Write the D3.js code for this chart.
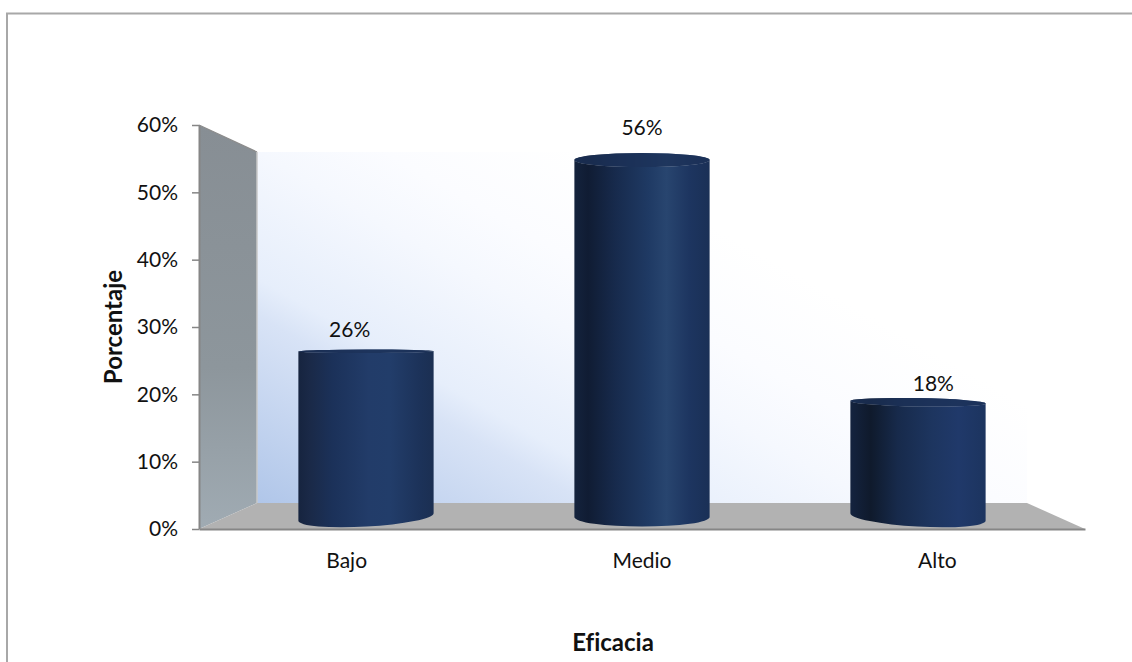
<!DOCTYPE html>
<html>
<head>
<meta charset="utf-8">
<script src="https://cdn.jsdelivr.net/npm/d3@7"></script>
<style>
html,body{margin:0;padding:0;background:#fff;overflow:hidden}
text{font-family:Lato,"Open Sans",sans-serif;fill:#111;font-variant-ligatures:none}
</style>
</head>
<body>
<svg id="chart" width="1132" height="662"></svg>
<script>
// Chart data
const categories = ["Bajo", "Medio", "Alto"];
const values = [26, 56, 18];
const tickValues = [0, 10, 20, 30, 40, 50, 60];
const xTitle = "Eficacia";
const yTitle = "Porcentaje";

const svg = d3.select("#chart");
const defs = svg.append("defs");

// Three depth planes of the 3-D box: front edge, bar centre plane, back wall
const xFront = d3.scaleBand().domain(categories).range([199, 1085]);
const xBar = d3.scaleBand().domain(categories).range([228, 1056]).paddingInner(0.51).paddingOuter(0.255);
const yFront = d3.scaleLinear().domain([0, 60]).range([529, 125]);
const yMid = d3.scaleLinear().domain([0, 60]).range([517, 134.5]);
const yBack = d3.scaleLinear().domain([0, 60]).range([503, 152]);
const backLeft = 257, backRight = 1027, frontLeft = 199, frontRight = 1085;

// Chart-area frame
svg.append("path")
  .attr("d", "M7,662V13.5H1132")
  .attr("fill", "none").attr("stroke", "#a8a8a8").attr("stroke-width", 2);

// Back wall wash
const wall = defs.append("linearGradient").attr("id", "wallFill")
  .attr("gradientUnits", "userSpaceOnUse")
  .attr("x1", backLeft).attr("y1", yBack(0)).attr("x2", backLeft + 230).attr("y2", yBack(0) - 405);
[[0, "#b0c6e9"], [0.35, "#d8e3f6"], [0.42, "#e6eefb"], [0.655, "#f5f8fe"], [0.79, "#fbfcff"], [1, "#ffffff"]].forEach(([o, c]) =>
  wall.append("stop").attr("offset", o).attr("stop-color", c));
svg.append("rect")
  .attr("x", backLeft).attr("y", yBack(60))
  .attr("width", backRight - backLeft).attr("height", yBack(0) - yBack(60))
  .attr("fill", "url(#wallFill)");

// Side wall
const side = defs.append("linearGradient").attr("id", "sideFill").attr("x1", 0).attr("y1", 0).attr("x2", 0).attr("y2", 1);
[[0, "#878e94"], [0.6, "#8d969c"], [1, "#a0abb3"]].forEach(([o, c]) =>
  side.append("stop").attr("offset", o).attr("stop-color", c));
svg.append("path")
  .attr("d", `M${frontLeft},${yFront(60)}L${backLeft},${yBack(60)}V${yBack(0)}L${frontLeft},${yFront(0)}Z`)
  .attr("fill", "url(#sideFill)");
svg.append("path")
  .attr("d", `M${frontLeft},${yFront(60)}L${backLeft},${yBack(60)}`)
  .attr("fill", "none").attr("stroke", "#8c8c8c").attr("stroke-width", 1.2);
svg.append("line")
  .attr("x1", backLeft).attr("x2", backLeft).attr("y1", yBack(60)).attr("y2", yBack(0))
  .attr("stroke", "#c8c8c8").attr("stroke-width", 1.5);

// Floor
svg.append("path")
  .attr("d", `M${frontLeft},${yFront(0)}L${backLeft},${yBack(0)}H${backRight}L${frontRight},${yFront(0)}Z`)
  .attr("fill", "#b2b2b2");

// Value axis, drawn with tick marks only to the left of the box
const yAxis = d3.axisLeft(yFront).tickValues(tickValues).tickFormat(d => d + "%").tickSize(7).tickSizeOuter(0).tickPadding(14);
const yG = svg.append("g").attr("transform", `translate(${frontLeft},0)`).call(yAxis);
yG.select(".domain").attr("stroke", "#868686").attr("stroke-width", 2);
yG.selectAll(".tick line").attr("stroke", "#868686").attr("stroke-width", 1.5);
yG.selectAll("text").attr("font-size", 21).style("font-family", "Lato,sans-serif").attr("fill", "#111");

// Category axis along the front edge of the floor
const xAxis = d3.axisBottom(xFront).tickSize(0).tickPadding(24);
const xG = svg.append("g").attr("transform", `translate(0,${yFront(0)})`).call(xAxis);
xG.select(".domain").attr("stroke", "#868686").attr("stroke-width", 2);
xG.selectAll("text").attr("font-size", 21).style("font-family", "Lato,sans-serif").attr("fill", "#111");

// Cylinder shading: the highlight drifts with the viewing angle of each bar
const shadeStops = [
  [[0, "#16243f"], [0.08, "#1a2947"], [0.25, "#1b3159"], [0.52, "#223c69"], [0.68, "#223d6a"], [0.9, "#1c3259"], [1, "#1b2f52"]],
  [[0, "#14233d"], [0.1, "#101c33"], [0.3, "#172a4c"], [0.55, "#1f3a64"], [0.68, "#28456f"], [0.85, "#1d3560"], [1, "#1a3056"]],
  [[0, "#14233f"], [0.15, "#0f1a2c"], [0.35, "#172a4b"], [0.6, "#1d355f"], [0.8, "#20396a"], [1, "#1c345f"]]
];
shadeStops.forEach((stops, i) => {
  const g = defs.append("linearGradient").attr("id", "barFill" + i);
  stops.forEach(([o, c]) => g.append("stop").attr("offset", o).attr("stop-color", c));
});
const capTint = "#1c3258";

// Elliptical ends get flatter near eye level and lean with distance from centre
const eyeLevel = 345, centreX = 642;
function cap(y, cx) {
  const d = y - eyeLevel;
  const ry = 1.5 + (d > 0 ? 0.047 : 0.03) * Math.abs(d);
  const lean = d / 170 * (cx - centreX) / 275 * 3.7;
  return {ry, lean};
}

const bars = svg.append("g").selectAll("g").data(values).join("g");
bars.each(function (v, i) {
  const g = d3.select(this);
  const x0 = xBar(categories[i]), x1 = x0 + xBar.bandwidth(), cx = (x0 + x1) / 2;
  const half = xBar.bandwidth() / 2;
  const yT = yMid(v), yB = yMid(0);
  const t = cap(yT, cx), b = cap(yB, cx);
  const tl = yT - t.lean, tr = yT + t.lean, bl = yB - b.lean, br = yB + b.lean;
  const rotT = Math.atan2(2 * t.lean, 2 * half) * 180 / Math.PI;
  const rotB = Math.atan2(2 * b.lean, 2 * half) * 180 / Math.PI;
  const capPath = `M${x0},${tl}A${half},${t.ry} ${rotT} 0 1 ${x1},${tr}A${half},${t.ry} ${rotT} 0 1 ${x0},${tl}Z`;
  g.append("path")
    .attr("d", `M${x0},${tl}L${x0},${bl}A${half},${b.ry} ${rotB} 0 0 ${x1},${br}L${x1},${tr}A${half},${t.ry} ${rotT} 0 1 ${x0},${tl}Z`)
    .attr("fill", `url(#barFill${i})`);
  // Opaque cap: body shading underneath, flat tint laid over it
  g.append("path").attr("d", capPath).attr("fill", `url(#barFill${i})`);
  g.append("path").attr("d", capPath).attr("fill", capTint).attr("fill-opacity", 0.75);
});

// Value labels
svg.append("g").selectAll("text").data(values).join("text")
  .attr("x", (d, i) => xFront(categories[i]) + xFront.bandwidth() / 2 + (i === 0 ? 3 : i === 2 ? -4 : 0))
  .attr("y", d => yFront(d) - 17)
  .attr("text-anchor", "middle").attr("font-size", 21)
  .text(d => d + "%");

// Axis titles
svg.append("text")
  .attr("x", 613).attr("y", 651).attr("text-anchor", "middle")
  .attr("font-size", 24).attr("font-weight", 700).text(xTitle);
svg.append("text")
  .attr("transform", "translate(122,327) rotate(-90)").attr("text-anchor", "middle")
  .attr("font-size", 24).attr("font-weight", 700).text(yTitle);
</script>
</body>
</html>
